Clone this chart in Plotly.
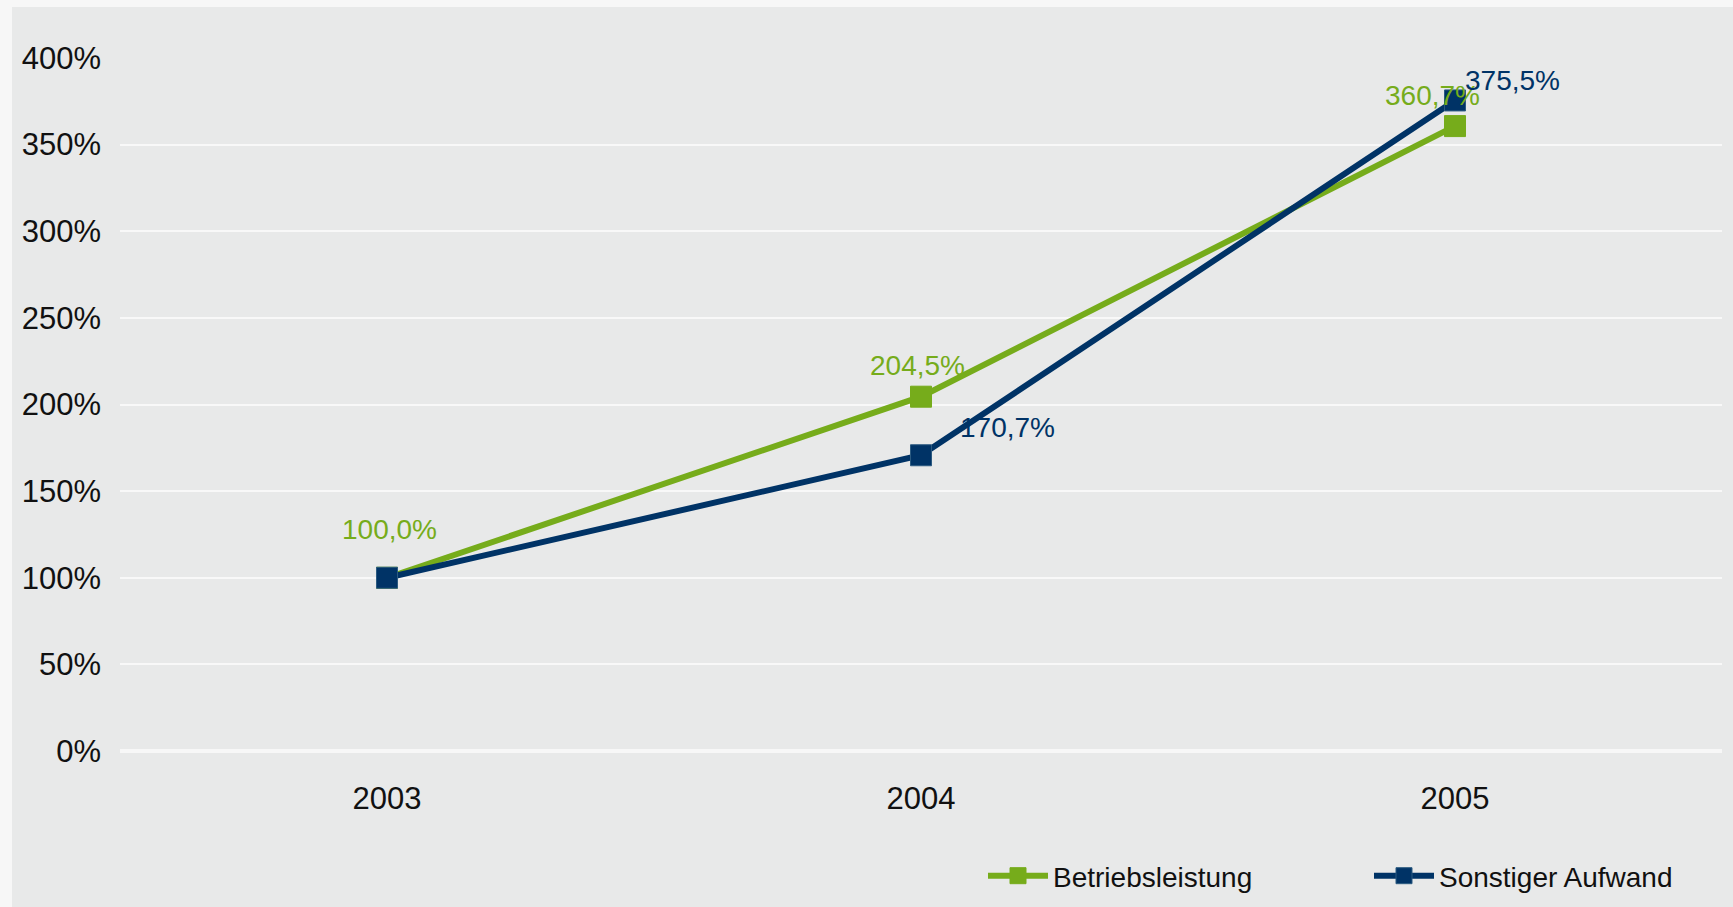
import plotly.graph_objects as go

years = ["2003", "2004", "2005"]
betriebsleistung = [100.0, 204.5, 360.7]
sonstiger_aufwand = [100.0, 170.7, 375.5]
series_names = ["Betriebsleistung", "Sonstiger Aufwand"]
y_ticks = [0, 50, 100, 150, 200, 250, 300, 350, 400]
y_tick_labels = ["0%", "50%", "100%", "150%", "200%", "250%", "300%", "350%", "400%"]

GREEN = "#76ac1b"
NAVY = "#003366"
FONT = "Liberation Sans, Arial, sans-serif"

W, H = 1733, 907
L, R, T, B = 120, 11, 58, 156
PW = W - L - R
PH = H - T - B

def fmt(v):
    return f"{v:.1f}".replace(".", ",") + "%"

fig = go.Figure()
fig.add_trace(go.Scatter(
    x=years, y=betriebsleistung, name=series_names[0], mode="lines+markers",
    line=dict(color=GREEN, width=6),
    marker=dict(symbol="square", size=21, color=GREEN, line=dict(width=1, color=GREEN)),
))
fig.add_trace(go.Scatter(
    x=years, y=sonstiger_aufwand, name=series_names[1], mode="lines+markers",
    line=dict(color=NAVY, width=6),
    marker=dict(symbol="square", size=21, color=NAVY, line=dict(width=1, color="#2b5a80")),
))

# data labels (offsets in px relative to point)
label_specs = [
    (betriebsleistung, GREEN, [(2, 48), (-4, 31), (-23, 31)], [True, True, True]),
    (sonstiger_aufwand, NAVY, [(0, 0), (86, 28), (57, 20)], [False, True, True]),
]
for ys, col, offs, show in label_specs:
    for i, (yv, (dx, dy), s) in enumerate(zip(ys, offs, show)):
        if not s:
            continue
        fig.add_annotation(
            x=i, y=yv, xref="x", yref="y", text=fmt(yv), showarrow=False,
            xanchor="center", yanchor="middle", xshift=dx, yshift=dy,
            font=dict(family=FONT, size=28, color=col),
        )

# gray panel
fig.add_shape(
    type="rect", xref="paper", yref="paper", layer="below",
    x0=(12 - L) / PW, x1=(W - L) / PW + 0.01,
    y0=-(B + 5) / PH, y1=(PH + T - 7) / PH,
    fillcolor="#e8e9e9", line=dict(width=0),
)

fig.update_layout(
    width=W, height=H,
    margin=dict(l=L, r=R, t=T, b=B, autoexpand=False),
    paper_bgcolor="#f7f7f7",
    plot_bgcolor="rgba(0,0,0,0)",
    font=dict(family=FONT, color="#111111"),
    showlegend=True,
    legend=dict(
        orientation="h", x=(983 - L) / PW, xanchor="left",
        y=-(876 - (H - B)) / PH, yanchor="middle",
        font=dict(family=FONT, size=28, color="#111111"),
        bgcolor="rgba(0,0,0,0)", entrywidth=311, entrywidthmode="pixels",
        itemwidth=60, tracegroupgap=0,
    ),
    xaxis=dict(
        type="category", range=[-0.5, 2.5], showgrid=False, zeroline=False,
        showline=False, ticks="", tickfont=dict(family=FONT, size=31, color="#111111"),
        ticklabelstandoff=26,
    ),
    yaxis=dict(
        range=[0, 400], tickvals=y_ticks, ticktext=y_tick_labels,
        showgrid=True, gridcolor="#f8f8f8", gridwidth=2,
        zeroline=True, zerolinecolor="#f7f7f7", zerolinewidth=4,
        showline=False, ticks="", tickfont=dict(family=FONT, size=31, color="#111111"),
        ticklabelstandoff=18,
    ),
)

fig.write_html(
    "out.html",
    config={"displayModeBar": False},
    post_script="document.body.style.margin='0';document.body.style.overflow='hidden';",
)
